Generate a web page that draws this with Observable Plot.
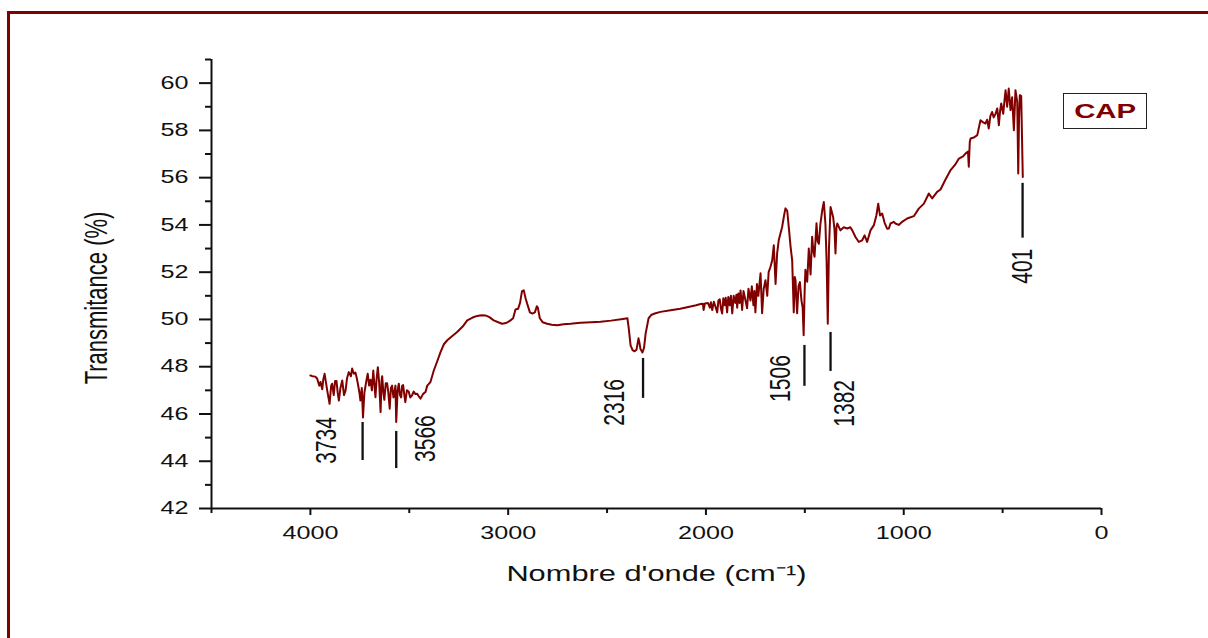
<!DOCTYPE html>
<html>
<head>
<meta charset="utf-8">
<script src="https://cdn.jsdelivr.net/npm/d3@7"></script>
<script src="https://cdn.jsdelivr.net/npm/@observablehq/plot@0.6"></script>
<style>
  html, body { margin: 0; padding: 0; background: #fff; overflow: hidden; }
  #wrap { position: relative; width: 1208px; height: 638px; }
  #frame { position: absolute; left: 7px; top: 11px; width: 1400px; height: 800px;
           border-left: 3px solid #7f0000; border-top: 3px solid #7f0000; pointer-events: none; }
  #legend { position: absolute; left: 1063px; top: 93px; width: 82px; height: 34px;
            border: 1.5px solid #222; display: flex; align-items: center; justify-content: center; }
  #legend span { font: bold 21px "Liberation Sans", Arial, sans-serif; color: #800000;
                 display: inline-block; transform: scaleX(1.4); }
  svg { position: absolute; left: 0; top: 0; }
</style>
</head>
<body>
<div id="wrap">
  <div id="frame"></div>
  <div id="legend"><span>CAP</span></div>
</div>
<script>
// Spectrum: wavenumber (cm-1) and transmittance (%)
const wavenumbers = [
4000,3990,3975,3966,3955,3949,3940,3935,3928,3915,3903,3895,3890,3882,3875,3868,3862,3856,3848,3839,
3830,3822,3815,3806,3795,3789,3780,3772,3765,3760,3752,3747,3740,3734,3727,3721,3715,3710,3703,3696,
3689,3682,3676,3671,3665,3659,3652,3645,3640,3637,3631,3626,3619,3612,3606,3599,3593,3587,3580,3575,
3570,3566,3559,3553,3547,3541,3536,3531,3525,3520,3512,3503,3495,3486,3478,3470,3460,3452,3443,3430,
3418,3409,3393,3376,3360,3342,3325,3308,3290,3258,3230,3207,3180,3157,3135,3115,3095,3073,3050,3031,
3010,2990,2975,2963,2950,2940,2930,2921,2912,2904,2890,2878,2865,2855,2850,2840,2825,2803,2780,2752,
2720,2685,2634,2580,2533,2480,2420,2397,2390,2381,2371,2361,2351,2341,2336,2331,2321,2313,2305,2290,
2275,2255,2230,2179,2130,2078,2050,2027,2015,2012,2005,1990,1980,1975,1968,1960,1952,1943,1937,1930,
1924,1918,1912,1905,1900,1893,1887,1880,1874,1867,1860,1852,1846,1842,1836,1830,1825,1817,1810,1800,
1792,1785,1775,1768,1760,1755,1750,1742,1735,1724,1716,1708,1699,1690,1683,1674,1665,1657,1648,1640,
1632,1623,1615,1605,1598,1589,1580,1572,1564,1556,1551,1547,1543,1539,1532,1525,1517,1511,1506,1501,
1497,1488,1480,1471,1463,1457,1451,1441,1435,1429,1421,1412,1404,1396,1390,1384,1378,1370,1357,1350,
1345,1340,1336,1320,1303,1286,1270,1260,1244,1227,1210,1198,1185,1168,1151,1138,1129,1120,1109,1097,
1084,1075,1067,1050,1042,1025,1008,983,949,924,898,873,856,831,814,790,763,740,721,700,
688,675,671,666,662,645,628,612,600,587,578,570,562,553,545,536,527,519,513,507,
497,490,485,477,469,460,452,443,435,426,421,417,413,406,398
];
const transmittance = [
47.63,47.60,47.58,47.50,47.20,47.35,47.05,47.45,47.70,47.00,46.43,47.20,47.28,46.80,47.40,47.40,46.90,46.57,47.10,47.42,
46.80,47.00,47.50,47.77,47.60,47.92,47.70,47.75,47.50,47.28,46.90,46.57,47.10,45.85,46.90,47.20,47.50,47.70,47.20,47.45,
47.00,47.84,47.20,46.71,47.50,47.98,47.30,46.08,47.40,47.60,46.90,46.60,47.30,47.30,46.90,46.22,47.10,47.20,46.70,46.90,
47.20,45.66,47.00,47.28,46.80,46.70,47.20,47.22,46.80,46.50,47.00,46.95,46.70,46.79,46.95,46.85,46.86,46.75,46.65,46.85,
46.93,47.20,47.35,47.84,48.20,48.62,48.95,49.12,49.25,49.47,49.70,49.96,50.08,50.15,50.18,50.17,50.10,49.96,49.88,49.82,
49.85,49.95,50.05,50.42,50.45,50.70,51.20,51.23,50.90,50.67,50.30,50.25,50.30,50.56,50.50,50.05,49.88,49.82,49.78,49.75,
49.80,49.82,49.86,49.88,49.90,49.95,50.02,50.05,49.60,48.90,48.70,48.65,48.72,49.20,49.00,48.75,48.60,48.80,49.40,50.05,
50.20,50.26,50.32,50.39,50.45,50.55,50.60,50.65,50.66,50.40,50.68,50.70,50.50,50.73,50.40,50.75,50.55,50.30,50.80,50.85,
50.45,50.25,50.90,50.60,50.92,50.30,50.95,50.60,51.00,50.26,51.00,50.70,51.05,50.50,51.10,50.70,51.23,50.40,51.20,50.80,
50.47,51.30,50.80,51.40,50.60,51.20,50.30,51.50,51.00,51.95,50.26,51.30,51.66,51.00,52.00,52.22,52.50,53.14,51.50,52.80,
53.35,53.65,53.90,54.40,54.70,54.60,53.80,53.07,52.50,50.30,51.80,51.66,50.90,50.26,51.40,51.58,50.80,50.50,49.33,51.20,
52.10,51.60,53.00,51.90,53.50,52.90,52.65,54.07,53.30,53.20,54.07,54.62,54.97,54.06,52.50,49.82,53.00,54.76,54.34,53.80,
52.79,53.90,54.06,53.77,53.90,53.85,53.90,53.77,53.49,53.28,53.35,53.56,53.28,53.77,53.99,54.41,54.90,54.40,54.48,54.10,
53.84,53.85,54.06,54.13,54.06,54.00,54.13,54.27,54.37,54.69,54.90,55.33,55.12,55.40,55.50,55.90,56.32,56.55,56.81,56.90,
57.02,57.10,56.46,57.50,57.66,57.70,57.80,58.43,58.35,58.29,58.45,58.08,58.60,58.78,58.55,58.70,58.93,58.22,58.80,59.14,
58.70,59.30,59.70,59.00,59.77,58.86,59.40,58.01,59.70,59.20,56.18,58.50,59.49,59.45,56.03
];

// Peak annotations
const peakLabels = ["3734", "3566", "2316", "1506", "1382", "401"];
const peakLineWn = [3736, 3566, 2318, 1502, 1370, 399];
const peakLineTop = [45.64, 45.26, 48.35, 48.90, 49.45, 55.76];
const peakLineBottom = [44.03, 43.69, 46.66, 47.17, 47.80, 53.44];
const peakLabelWn = [3919, 3418, 2462, 1623, 1299, 399];
const peakLabelT = [44.88, 44.96, 46.49, 47.50, 46.45, 52.25];

// Axis ticks
const xMajorTicks = [4000, 3000, 2000, 1000, 0];
const xMinorTicks = [4500, 3500, 2500, 1500, 500];
const yMajorTicks = [42, 44, 46, 48, 50, 52, 54, 56, 58, 60];
const yMinorTicks = [43, 45, 47, 49, 51, 53, 55, 57, 59, 61];

const xLabel = "Nombre d'onde (cm\u207B\u00B9)";
const yLabel = "Transmitance (%)";

const spectrum = wavenumbers.map((w, i) => ({wn: w, t: transmittance[i]}));
const peaks = peakLabels.map((l, i) => ({
  label: l, wn: peakLineWn[i], top: peakLineTop[i], bottom: peakLineBottom[i],
  lx: peakLabelWn[i], ly: peakLabelT[i]
}));

const maroon = "#800000";

const chart = Plot.plot({
  width: 1208,
  height: 638,
  marginLeft: 211,
  marginRight: 107,
  marginTop: 59,
  marginBottom: 130,
  style: {fontFamily: "'Liberation Sans', Arial, sans-serif", fontSize: "18px", color: "#111", background: "transparent"},
  x: {domain: [4500, 0], axis: null},
  y: {domain: [42, 61], axis: null},
  marks: [
    Plot.axisY({ticks: yMajorTicks, tickSize: 12, tickPadding: 11, strokeWidth: 2, label: null, tickFormat: d3.format("d")}),
    Plot.axisY({ticks: yMinorTicks, tickSize: 6, strokeWidth: 2, label: null, tickFormat: () => ""}),
    Plot.axisX({ticks: xMajorTicks, tickSize: 7, tickPadding: 11, strokeWidth: 2, label: null, tickFormat: d3.format("d")}),
    Plot.axisX({ticks: xMinorTicks, tickSize: 5, strokeWidth: 2, label: null, tickFormat: () => ""}),
    Plot.ruleY([42], {strokeWidth: 2}),
    Plot.ruleX([4500], {strokeWidth: 2}),
    Plot.line(spectrum, {x: "wn", y: "t", stroke: maroon, strokeWidth: 2}),
    Plot.ruleX(peaks, {x: "wn", y1: "top", y2: "bottom", stroke: "#111", strokeWidth: 2.3}),
    Plot.text(peaks, {x: "lx", y: "ly", text: "label", rotate: -90, fontSize: 21, fill: "#111", lineAnchor: "middle"}),
    Plot.text([yLabel], {frameAnchor: "left", textAnchor: "middle", dx: -114, dy: 14, rotate: -90, fontSize: 22, fill: "#111"}),
    Plot.text([xLabel], {frameAnchor: "bottom", textAnchor: "middle", dy: 72, fontSize: 22, fill: "#111"})
  ]
});

// The reference is stretched horizontally: stretch every glyph along the screen x axis
d3.select(chart).selectAll("text").each(function () {
  const t = d3.select(this);
  const tr = t.attr("transform") || "";
  const rotated = /rotate/.test(tr);
  const xa = t.attr("x"), ya = t.attr("y");
  let tx = 0, ty = 0, move = false;
  if (xa != null && !isNaN(+xa)) { tx = +xa; t.attr("x", null); move = true; }
  if (ya != null && !isNaN(+ya)) { ty = +ya; t.attr("y", null); move = true; }
  const pre = move ? ` translate(${tx},${ty})` : "";
  t.attr("transform", (tr + pre + (rotated ? " scale(1,1.4)" : " scale(1.4,1)")).trim());
});

document.getElementById("wrap").prepend(chart);
</script>
</body>
</html>
